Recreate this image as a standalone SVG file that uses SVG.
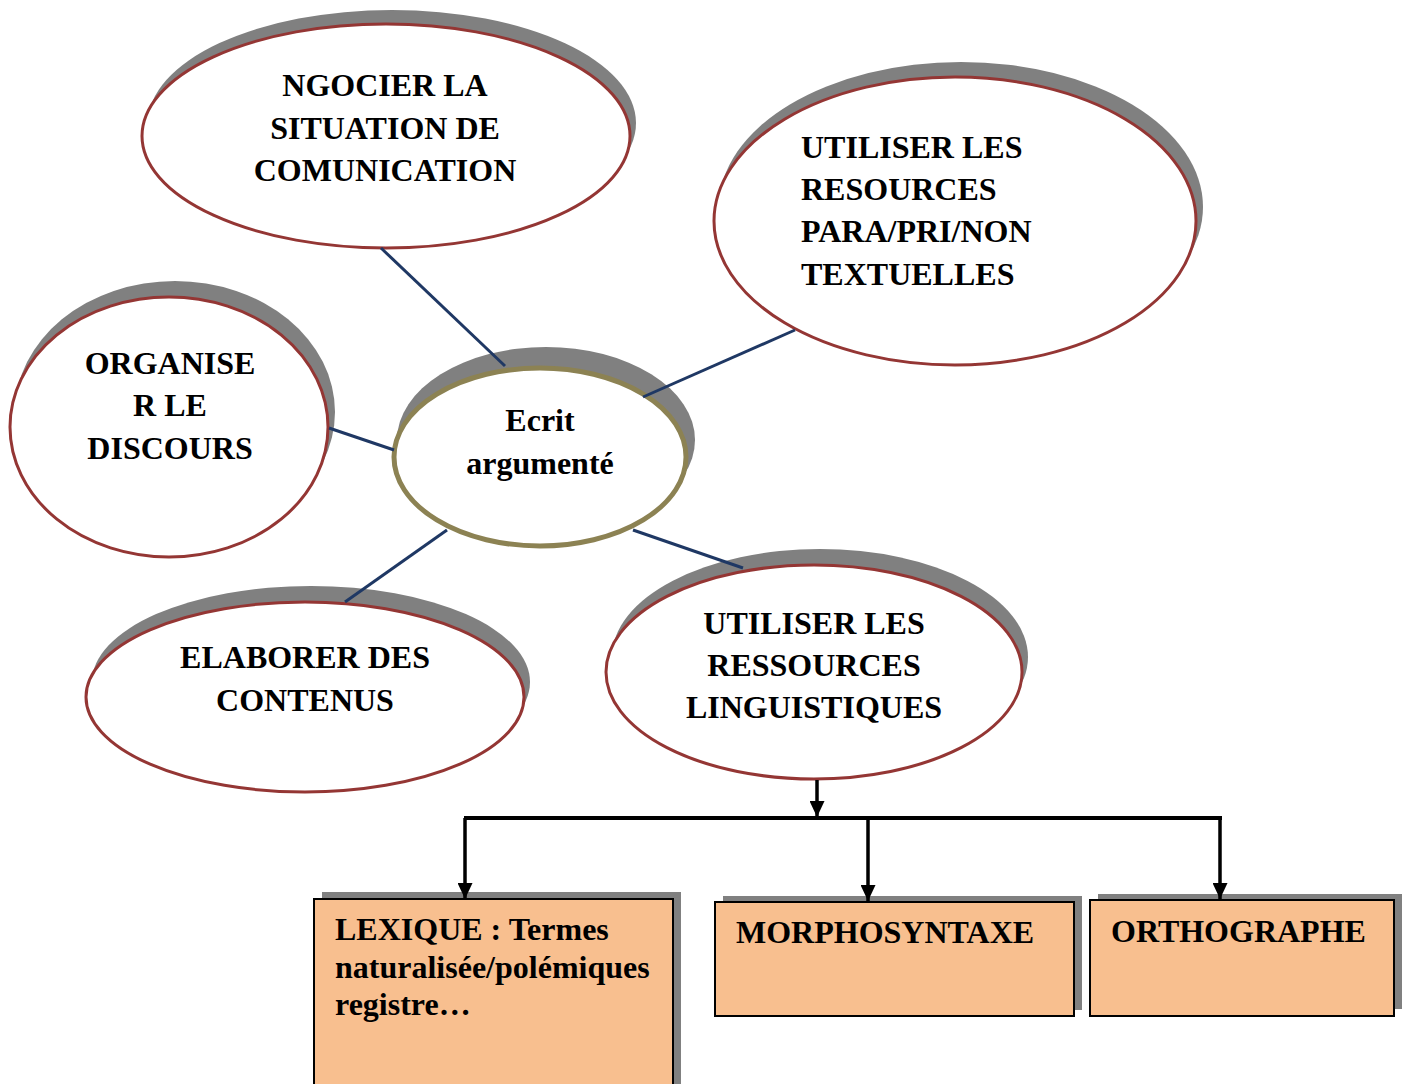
<svg xmlns="http://www.w3.org/2000/svg" width="1407" height="1084" viewBox="0 0 1407 1084">
<style>
.sh{fill:#808080}
.el{fill:#fff;stroke:#943634;stroke-width:3}
.ctr{fill:#fff;stroke:#8C8253;stroke-width:5}
.t{font-family:"Liberation Serif","Times New Roman",serif;font-weight:bold;font-size:32px;fill:#000}
.c{text-anchor:middle}
.con{stroke:#1F3864;stroke-width:3;fill:none}
.box{fill:#F8BF8F;stroke:#000;stroke-width:2}
.ar{stroke:#000;stroke-width:3.5;fill:none}
</style>
<defs>
<marker id="ah" markerWidth="16" markerHeight="15" refX="16" refY="7.5" orient="auto" markerUnits="userSpaceOnUse" viewBox="0 0 16 15">
<path d="M0,0 L16,7.5 L0,15 Z" fill="#000"/>
</marker>
</defs>
<g id="n-ngocier">
<ellipse class="sh" cx="392" cy="123" rx="244" ry="113"/>
<ellipse class="el" cx="386" cy="136" rx="244" ry="112"/>
<text class="t c" x="385" y="96">NGOCIER LA</text>
<text class="t c" x="385" y="139">SITUATION DE</text>
<text class="t c" x="385" y="181">COMUNICATION</text>
</g>
<g id="n-resources">
<ellipse class="sh" cx="961" cy="207" rx="242" ry="145"/>
<ellipse class="el" cx="955" cy="221" rx="241" ry="144"/>
<text class="t" x="801" y="158">UTILISER LES</text>
<text class="t" x="801" y="200">RESOURCES</text>
<text class="t" x="801" y="242">PARA/PRI/NON</text>
<text class="t" x="801" y="285">TEXTUELLES</text>
</g>
<g id="n-organiser">
<ellipse class="sh" cx="175" cy="412" rx="160" ry="131"/>
<ellipse class="el" cx="169" cy="427" rx="159" ry="130"/>
<text class="t c" x="170" y="374">ORGANISE</text>
<text class="t c" x="170" y="416">R LE</text>
<text class="t c" x="170" y="459">DISCOURS</text>
</g>
<g id="n-ecrit">
<ellipse class="sh" cx="546" cy="440" rx="149" ry="93"/>
<ellipse class="ctr" cx="540" cy="457" rx="146" ry="89"/>
<text class="t c" x="540" y="431">Ecrit</text>
<text class="t c" x="540" y="474">argumenté</text>
</g>
<g id="n-elaborer">
<ellipse class="sh" cx="311" cy="682" rx="219" ry="96"/>
<ellipse class="el" cx="305" cy="697" rx="219" ry="95"/>
<text class="t c" x="305" y="668">ELABORER DES</text>
<text class="t c" x="305" y="711">CONTENUS</text>
</g>
<g id="n-linguistiques">
<ellipse class="sh" cx="820" cy="657" rx="208" ry="108"/>
<ellipse class="el" cx="814" cy="672" rx="208" ry="107"/>
<text class="t c" x="814" y="634">UTILISER LES</text>
<text class="t c" x="814" y="676">RESSOURCES</text>
<text class="t c" x="814" y="718">LINGUISTIQUES</text>
</g>
<g id="n-lexique">
<rect class="sh" x="322" y="892" width="359" height="200"/>
<rect class="box" x="314" y="899" width="359" height="200"/>
<text class="t" x="335" y="940">LEXIQUE : Termes</text>
<text class="t" x="335" y="978">naturalisée/polémiques</text>
<text class="t" x="335" y="1015">registre…</text>
</g>
<g id="n-morpho">
<rect class="sh" x="723" y="896" width="359" height="114"/>
<rect class="box" x="715" y="902" width="359" height="114"/>
<text class="t" x="736" y="943">MORPHOSYNTAXE</text>
</g>
<g id="n-ortho">
<rect class="sh" x="1098" y="894" width="304" height="115"/>
<rect class="box" x="1090" y="900" width="304" height="116"/>
<text class="t" x="1111" y="942">ORTHOGRAPHE</text>
</g>
<g id="connectors">
<line class="con" x1="381" y1="248" x2="505" y2="366"/>
<line class="con" x1="795" y1="330" x2="643" y2="397"/>
<line class="con" x1="329" y1="428" x2="394" y2="450"/>
<line class="con" x1="447" y1="530" x2="345" y2="602"/>
<line class="con" x1="633" y1="530" x2="743" y2="568"/>
<line class="ar" x1="817" y1="780" x2="817" y2="817" marker-end="url(#ah)"/>
<line x1="464" y1="818" x2="1222" y2="818" stroke="#000" stroke-width="4"/>
<line class="ar" x1="465" y1="818" x2="465" y2="899" marker-end="url(#ah)"/>
<line class="ar" x1="868" y1="818" x2="868" y2="901" marker-end="url(#ah)"/>
<line class="ar" x1="1220" y1="818" x2="1220" y2="899" marker-end="url(#ah)"/>
</g>
</svg>
